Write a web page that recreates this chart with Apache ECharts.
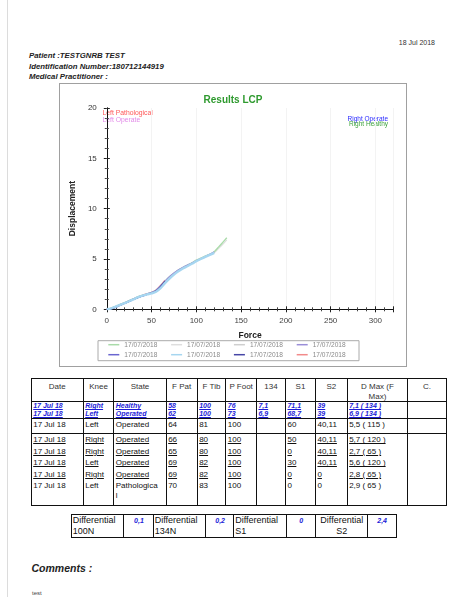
<!DOCTYPE html>
<html><head><meta charset="utf-8">
<script src="https://cdn.jsdelivr.net/npm/echarts/dist/echarts.min.js"></script>
<style>
html,body{margin:0;padding:0;background:#fff;}
body{width:449px;height:597px;position:relative;overflow:hidden;font-family:"Liberation Sans",Arial,sans-serif;color:#222;}
.abs{position:absolute;white-space:nowrap;}
.hdr{font-size:7.8px;font-style:italic;font-weight:bold;line-height:9px;color:#222;}
#chartBox{position:absolute;left:59px;top:83px;width:348px;height:284px;border:1px solid #a0a0a0;box-sizing:border-box;}
#chart{width:346px;height:282px;}
table{border-collapse:collapse;table-layout:fixed;position:absolute;}
#res td{border-left:1px solid #111;border-right:1px solid #111;padding:0 0 0 1.5px;font-size:8px;line-height:10px;vertical-align:top;white-space:nowrap;overflow:hidden;color:#111;}
#res tr.head td{text-align:center;padding:3px 0 0 0;height:18.7px;border-top:1px solid #111;border-bottom:1px solid #111;white-space:normal;line-height:9.5px;color:#333;}
#res tr.blue td{font-size:7px;line-height:8px;height:8px;font-weight:bold;font-style:italic;color:#1c1cd8;text-decoration:underline;}
#res tr.blast td{border-bottom:1px solid #111;}
#res tr.r3 td{height:13.5px;padding-top:0.5px;border-bottom:1px solid #111;}
#res tr.ul td{height:11.6px;line-height:11px;text-decoration:underline;}
#res tr.plast td{height:24.2px;border-bottom:1px solid #111;line-height:10px;}
#diff td{border:1px solid #111;padding:0 0 0 1px;font-size:9px;line-height:11px;vertical-align:top;height:21.7px;white-space:nowrap;overflow:hidden;color:#111;}
#diff td.v{text-align:center;font-size:7px;font-weight:bold;font-style:italic;color:#1c1cd8;line-height:11px;}
#diff td.c{text-align:center;}
</style></head><body>
<div class="abs" style="left:7px;top:0;width:1px;height:597px;background:#dcdcdc;"></div>
<div class="abs" style="right:14px;top:39px;font-size:7px;line-height:8px;color:#333;">18 Jul 2018</div>
<div class="abs hdr" style="left:29px;top:50.5px;">Patient :TESTGNRB TEST</div>
<div class="abs hdr" style="left:29px;top:61.5px;">Identification Number:180712144919</div>
<div class="abs hdr" style="left:29px;top:72.2px;">Medical Practitioner :</div>

<div id="chartBox"><div id="chart"></div></div>

<table id="res" style="left:30.7px;top:378.3px;width:415.3px;">
<colgroup><col style="width:52px"><col style="width:30.6px"><col style="width:52.4px"><col style="width:31px"><col style="width:28.6px"><col style="width:30.7px"><col style="width:29px"><col style="width:30px"><col style="width:31.7px"><col style="width:60.6px"><col style="width:38.7px"></colgroup>
<tr class="head"><td>Date</td><td>Knee</td><td>State</td><td>F Pat</td><td>F Tib</td><td>P Foot</td><td>134</td><td>S1</td><td>S2</td><td>D Max (F<br>Max)</td><td>C.</td></tr>
<tr class="blue"><td>17 Jul 18</td><td>Right</td><td>Healthy</td><td>58</td><td>100</td><td>76</td><td>7,1</td><td>71,1</td><td>39</td><td>7,1 ( 134 )</td><td></td></tr>
<tr class="blue blast"><td>17 Jul 18</td><td>Left</td><td>Operated</td><td>62</td><td>100</td><td>73</td><td>6,9</td><td>68,7</td><td>39</td><td>6,9 ( 134 )</td><td></td></tr>
<tr class="r3"><td>17 Jul 18</td><td>Left</td><td>Operated</td><td>64</td><td>81</td><td>100</td><td></td><td>60</td><td>40,11</td><td>5,5 ( 115 )</td><td></td></tr>
<tr class="ul"><td>17 Jul 18</td><td>Right</td><td>Operated</td><td>66</td><td>80</td><td>100</td><td></td><td>50</td><td>40,11</td><td>5,7 ( 120 )</td><td></td></tr>
<tr class="ul"><td>17 Jul 18</td><td>Right</td><td>Operated</td><td>65</td><td>80</td><td>100</td><td></td><td>0</td><td>40,11</td><td>2,7 ( 65 )</td><td></td></tr>
<tr class="ul"><td>17 Jul 18</td><td>Left</td><td>Operated</td><td>69</td><td>82</td><td>100</td><td></td><td>30</td><td>40,11</td><td>5,6 ( 120 )</td><td></td></tr>
<tr class="ul"><td>17 Jul 18</td><td>Right</td><td>Operated</td><td>69</td><td>82</td><td>100</td><td></td><td>0</td><td>0</td><td>2,8 ( 65 )</td><td></td></tr>
<tr class="plast"><td>17 Jul 18</td><td>Left</td><td>Pathologica<br>l</td><td>70</td><td>83</td><td>100</td><td></td><td>0</td><td>0</td><td>2,9 ( 65 )</td><td></td></tr>
</table>

<table id="diff" style="left:70.7px;top:514px;width:325px;">
<colgroup><col style="width:52.6px"><col style="width:29.4px"><col style="width:52.3px"><col style="width:28.3px"><col style="width:52.4px"><col style="width:29.3px"><col style="width:51.7px"><col style="width:29px"></colgroup>
<tr><td>Differential<br>100N</td><td class="v">0,1</td><td>Differential<br>134N</td><td class="v">0,2</td><td>Differential<br>S1</td><td class="v">0</td><td class="c">Differential<br>S2</td><td class="v">2,4</td></tr>
</table>

<div class="abs" style="left:31.5px;top:562px;font-size:10.5px;line-height:12px;font-weight:bold;font-style:italic;color:#222;">Comments :</div>
<div class="abs" style="left:32px;top:589.5px;font-size:6px;line-height:7px;color:#444;">test</div>

<script>
// ---- data ----
const forceN = [0,5,10,15,20,25,30,35,40,45,50,55,60,65,70,75,80,85,90,95,100,105,110,115,120,125,130,134];
const dispRightHealthy   = [0,0.12,0.28,0.48,0.66,0.85,1.05,1.25,1.4,1.52,1.66,1.88,2.3,2.78,3.22,3.58,3.9,4.15,4.38,4.62,4.88,5.08,5.28,5.45,5.72,6.2,6.7,7.1];
const dispLeftOperated1  = [0,0.1,0.25,0.44,0.63,0.82,1.02,1.2,1.36,1.5,1.65,1.86,2.25,2.7,3.15,3.52,3.85,4.1,4.32,4.56,4.8,5.0,5.2,5.4,5.62,6.05,6.5,6.9];
const dispLeftOperated2  = [0,0.08,0.24,0.42,0.6,0.8,1.0,1.18,1.35,1.5,1.64,1.85,2.24,2.72,3.18,3.55,3.88,4.12,4.34,4.6,4.85,5.08,5.3,5.5];
const dispRightOperated1 = [0,0.1,0.27,0.46,0.64,0.83,1.03,1.22,1.38,1.53,1.68,1.9,2.32,2.8,3.24,3.6,3.92,4.18,4.4,4.6,4.82,5.02,5.22,5.45,5.7];
const dispRightOperated2 = [0,0.06,0.2,0.4,0.58,0.78,0.98,1.16,1.33,1.47,1.62,1.8,2.2,2.7];
const dispLeftOperated3  = [0,0.1,0.26,0.45,0.62,0.8,1.0,1.2,1.36,1.48,1.58,1.74,2.1,2.6,3.05,3.45,3.78,4.05,4.28,4.52,4.78,5.0,5.2,5.4,5.6];
const dispRightOperated3 = [0,0.05,0.22,0.42,0.6,0.8,1.0,1.18,1.34,1.48,1.63,1.83,2.26,2.8];
const dispLeftPatho      = [0,0.1,0.28,0.47,0.65,0.84,1.04,1.23,1.4,1.55,1.7,1.93,2.38,2.9];
const seriesDates = ['17/07/2018','17/07/2018','17/07/2018','17/07/2018','17/07/2018','17/07/2018','17/07/2018','17/07/2018'];
const xTicks = [0,50,100,150,200,250,300];
const yTicks = [0,5,10,15,20];

// ---- styles ----
const allDisp = [dispRightHealthy, dispLeftOperated1, dispLeftOperated2, dispRightOperated1, dispRightOperated2, dispLeftOperated3, dispRightOperated3, dispLeftPatho];
const colors = ['#a9dba9','#dedede','#cfcfcf','#9a8ed8','#6a66d0','#a6d6f0','#4646a6','#f28a8a'];
const widths = [1.4,1.2,1.2,1.3,1.3,2.4,1.3,1.2];
const zs = [4,2,2,7,6,9,8,3];
const FONT = '"Liberation Sans", Arial, sans-serif';

const uniqueNames = seriesDates.map((d,i)=> d + '\u200b'.repeat(i));
const series = allDisp.map((disp,i)=>({
  name: uniqueNames[i], type:'line', smooth:0.3, symbol:'none', showSymbol:false,
  data: disp.map((d,j)=>[forceN[j], d]),
  lineStyle:{color:colors[i], width:widths[i]}, itemStyle:{color:colors[i]},
  z: zs[i]
}));

const chart = echarts.init(document.getElementById('chart'), null, {renderer:'canvas'});
const axisCommon = {
  axisLine:{show:true, lineStyle:{color:'#111', width:1}},
  axisTick:{show:true, inside:true, length:3, lineStyle:{color:'#222'}},
  minorTick:{show:true, splitNumber:5, length:2, lineStyle:{color:'#444'}},
};
const legendCommon = {
  left:48.3, itemWidth:11, itemHeight:1.5, icon:'rect', itemGap:13.8, padding:0, selectedMode:false,
  formatter: n => n.replace(/\u200b/g,''),
  textStyle:{fontSize:6.6, lineHeight:8, color:'#8a8a8a', fontFamily:FONT}
};
chart.setOption({
  animation:false,
  title:{text:'Results LCP', left:'center', top:6, textStyle:{color:'#2f9a2f', fontSize:10, fontWeight:'bold', fontFamily:FONT}},
  grid:{left:36.7, top:24, width:296.6, height:201.3, containLabel:false},
  xAxis:[
    Object.assign({type:'value', min:xTicks[0], max:320, interval:xTicks[1]-xTicks[0], name:'Force', nameLocation:'middle', nameGap:21.5,
      nameTextStyle:{fontWeight:'bold', fontSize:8.5, color:'#222', fontFamily:FONT},
      axisLabel:{fontSize:8, color:'#444', margin:7.5, showMaxLabel:false, fontFamily:FONT},
      splitLine:{show:true, lineStyle:{color:'#f3f3f3'}}}, axisCommon),
    Object.assign({type:'value', position:'top', min:xTicks[0], max:320, interval:xTicks[1]-xTicks[0], axisLabel:{show:false}, splitLine:{show:false}}, axisCommon)
  ],
  yAxis:[
    Object.assign({type:'value', min:yTicks[0], max:yTicks[yTicks.length-1], interval:yTicks[1]-yTicks[0], name:'Displacement', nameLocation:'middle', nameGap:28.5,
      nameTextStyle:{fontWeight:'bold', fontSize:8.5, color:'#222', fontFamily:FONT},
      axisLabel:{fontSize:8, color:'#333', margin:10, fontFamily:FONT},
      splitLine:{show:false}}, axisCommon),
    Object.assign({type:'value', position:'right', min:yTicks[0], max:yTicks[yTicks.length-1], interval:yTicks[1]-yTicks[0], axisLabel:{show:false}, splitLine:{show:false}}, axisCommon)
  ],
  legend:[
    Object.assign({data:uniqueNames.slice(0,4), top:256.7}, legendCommon),
    Object.assign({data:uniqueNames.slice(4), top:266.7}, legendCommon)
  ],
  graphic:[
    {type:'rect', shape:{x:38, y:256.7, width:261, height:20}, style:{fill:'none', stroke:'#aaa', lineWidth:1}, silent:true},
    {type:'text', x:42.5, y:29.3, style:{text:'Left Pathological', fill:'#ff5656', fontSize:6.8, fontFamily:FONT, textVerticalAlign:'middle'}},
    {type:'text', x:42.5, y:36, style:{text:'Left Operate', fill:'#e28ae8', fontSize:6.8, fontFamily:FONT, textVerticalAlign:'middle'}},
    {type:'text', x:328, y:35.3, style:{text:'Right Operate', fill:'#2a2aff', fontSize:6.5, fontFamily:FONT, textAlign:'right', textVerticalAlign:'middle'}},
    {type:'text', x:328, y:40.3, style:{text:'Right Healthy', fill:'#3aa03a', fontSize:6.5, fontFamily:FONT, textAlign:'right', textVerticalAlign:'middle'}}
  ],
  series: series
});
</script>
</body></html>
